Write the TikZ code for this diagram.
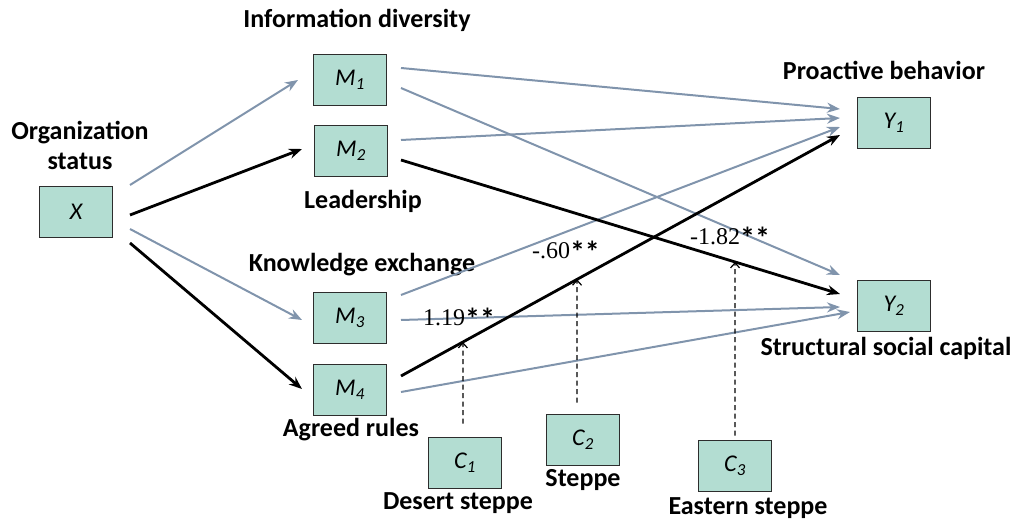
\documentclass[tikz,border=0pt]{standalone}
\usepackage{fontspec}
\setmainfont{Carlito}
\newfontfamily\numfont{Liberation Serif}
\usetikzlibrary{arrows.meta,calc}
\definecolor{boxfill}{RGB}{179,221,210}
\definecolor{boxdraw}{RGB}{45,45,45}
\definecolor{grayarrow}{RGB}{128,148,172}
\newcommand{\stars}{\raisebox{-4pt}{\fontsize{30}{30}\selectfont\bfseries **}}
\tikzset{
  varbox/.style={draw=boxdraw,line width=1.6pt,fill=boxfill,minimum width=73pt,minimum height=51pt,inner sep=0pt,font=\fontsize{24}{27}\selectfont\itshape},
  lbl/.style={font=\fontsize{26}{30}\selectfont\bfseries,inner sep=0pt,align=center},
  coef/.style={font=\fontsize{24}{27}\selectfont,inner sep=0pt},
  grayedge/.style={draw=grayarrow,line width=2pt,-{Stealth[length=13pt,width=10pt]}},
  blackedge/.style={draw=black,line width=2.8pt,-{Stealth[length=13pt,width=10pt]}},
  dashedge/.style={draw=black,line width=1.2pt,dash pattern=on 5pt off 3.5pt,-{Straight Barb[length=5pt,width=9pt]}}
}
\begin{document}
\begin{tikzpicture}[x=1pt,y=-1pt]
\useasboundingbox (0,0) rectangle (1018,521);
% boxes
\node[varbox] (X)  at (76,212)  {X};
\node[varbox] (M1) at (350,80)  {M\textsubscript{1}};
\node[varbox] (M2) at (351,151) {M\textsubscript{2}};
\node[varbox] (M3) at (350,318) {M\textsubscript{3}};
\node[varbox] (M4) at (350,390) {M\textsubscript{4}};
\node[varbox] (Y1) at (894,123) {Y\textsubscript{1}};
\node[varbox] (Y2) at (894,306) {Y\textsubscript{2}};
\node[varbox] (C1) at (465,463) {C\textsubscript{1}};
\node[varbox] (C2) at (583,440) {C\textsubscript{2}};
\node[varbox] (C3) at (735,466) {C\textsubscript{3}};
% labels
\node[lbl] (lX)  at (80,145)  {Organization\\status};
\node[lbl] (lM1) at (357,20)  {Information diversity};
\node[lbl] (lM2) at (363,201) {Leadership};
\node[lbl] (lM3) at (362,265) {Knowledge exchange};
\node[lbl] (lM4) at (351,430) {Agreed rules};
\node[lbl] (lY1) at (884,70)  {Proactive behavior};
\node[lbl] (lY2) at (886,348) {Structural social capital};
\node[lbl] (lC1) at (458,503) {Desert steppe};
\node[lbl] (lC2) at (583,480) {Steppe};
\node[lbl] (lC3) at (748,508) {Eastern steppe};
% X to mediators
\draw[grayedge]  ($(X.center)+(54,-27)$) -- ($(M1.center)+(-52,0)$);
\draw[blackedge] ($(X.center)+(54,3)$)   -- ($(M2.center)+(-49,-2)$);
\draw[grayedge]  ($(X.center)+(54,17)$)  -- ($(M3.center)+(-48,2)$);
\draw[blackedge] ($(X.center)+(54,31)$)  -- ($(M4.center)+(-48,-1)$);
% mediators to outcomes
\draw[grayedge] ($(M1.center)+(51,-12)$) -- ($(Y1.center)+(-54,-14)$);
\draw[grayedge] ($(M1.center)+(51,8)$)   -- ($(Y2.center)+(-54,-31)$);
\draw[grayedge] ($(M2.center)+(50,-11)$) -- ($(Y1.center)+(-54,-5)$);
\draw[grayedge] ($(M3.center)+(51,-23)$) -- ($(Y1.center)+(-54,4)$);
\draw[grayedge] ($(M3.center)+(51,2)$)   -- ($(Y2.center)+(-54,1)$);
\draw[grayedge] ($(M4.center)+(51,2)$)   -- ($(Y2.center)+(-44,6)$);
\draw[blackedge] ($(M2.center)+(50,9)$)  -- coordinate[pos=0.761] (p3) ($(Y2.center)+(-54,-12)$);
\draw[blackedge] ($(M4.center)+(51,-14)$) -- coordinate[pos=0.141] (p1) coordinate[pos=0.401] (p2) ($(Y1.center)+(-54,12)$);
% coefficients
\node[coef] (k1) at (459,319) {{\numfont 1.19}\stars};
\node[coef] (k2) at (566,252) {{\numfont -.60}\stars};
\node[coef] (k3) at (730,238) {{\numfont -1.82}\stars};
% moderators
\draw[dashedge] ($(C1.north)+(-2,-13)$) -- (p1);
\draw[dashedge] ($(C2.north)+(-6,-11)$) -- (p2);
\draw[dashedge] ($(C3.north)+(0,-4)$)   -- (p3);
\end{tikzpicture}
\end{document}
